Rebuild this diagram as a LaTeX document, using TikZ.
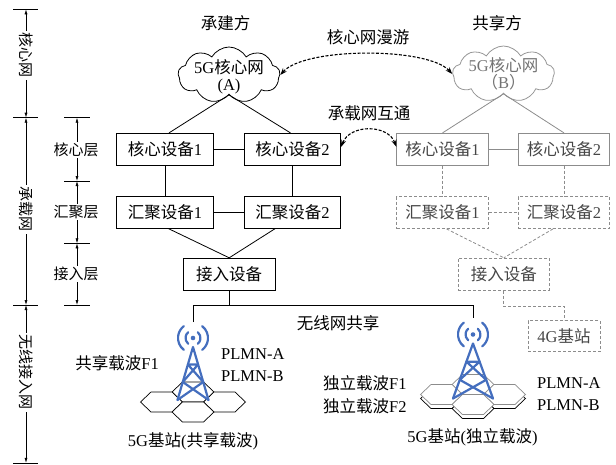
\documentclass[tikz,border=0pt]{standalone}
\usepackage{fontspec}
\setmainfont{Liberation Serif}
\newfontfamily\cjk{Noto Sans CJK SC}
\newcommand\zh[1]{{\cjk #1}}
\usetikzlibrary{shapes.symbols,arrows.meta,calc}
\definecolor{towerblue}{RGB}{68,110,190}
\definecolor{linegray}{RGB}{140,140,140}
\definecolor{textgray}{RGB}{70,70,70}
\definecolor{cloudgray}{RGB}{150,150,150}
\definecolor{cloudtext}{RGB}{115,115,115}

\tikzset{
  txt/.style={font=\fontsize{16.5}{17}\selectfont, inner sep=0pt},
  axistxt/.style={font=\fontsize{15}{17}\selectfont, fill=white, inner xsep=2pt, inner ysep=1pt},
  box/.style={txt, draw, line width=0.8pt, minimum height=32pt},
  gbox/.style={box, draw=linegray, text=textgray},
  dbox/.style={gbox, dash pattern=on 3pt off 2pt},
  wire/.style={line width=0.8pt},
  gwire/.style={line width=0.8pt, draw=linegray},
  dwire/.style={gwire, dash pattern=on 3pt off 2pt},
  linkarrow/.style={line width=1.1pt, dash pattern=on 3pt off 1.6pt,
    {Stealth[length=7pt,width=5pt]}-{Stealth[length=7pt,width=5pt]}},
  dimarrow/.style={line width=0.6pt,
    {Latex[length=5pt,width=3pt]}-{Latex[length=5pt,width=3pt]}},
  tick/.style={line width=0.6pt},
  cloudshape/.style={cloud, cloud puffs=9, cloud puff arc=120, draw,
    line width=0.8pt, minimum width=102pt, minimum height=56pt, inner sep=0pt},
  towerline/.style={draw=towerblue, line width=2.2pt, line cap=round, line join=round},
  hexblack/.style={draw=black, fill=white, line width=0.7pt},
  hexgray/.style={draw=linegray, fill=white, line width=0.7pt},
  pics/hexa/.style={code={
    \draw[#1] (-21,0) -- (-10.5,-10) -- (10.5,-10) -- (21,0) -- (10.5,10) -- (-10.5,10) -- cycle;}},
  pics/tower/.style 2 args={code={
    \pgfmathsetmacro\tw{#1}\pgfmathsetmacro\th{#2}
    % legs and bracing
    \draw[towerline] (-\tw,\th) -- (0,0) -- (\tw,\th);
    \draw[towerline]
      (-.33*\tw,.33*\th) -- (.33*\tw,.33*\th)
      (-.33*\tw,.33*\th) -- (.66*\tw,.66*\th)
      (.33*\tw,.33*\th) -- (-.66*\tw,.66*\th)
      (-.66*\tw,.66*\th) -- (\tw,\th)
      (.66*\tw,.66*\th) -- (-\tw,\th);
    % antenna and radio waves
    \fill[towerblue] (0,-9) circle[radius=2.3];
    \draw[towerline] (0,-9) ++(-50:7.5) arc[start angle=-50,end angle=50,radius=7.5];
    \draw[towerline] (0,-9) ++(130:7.5) arc[start angle=130,end angle=230,radius=7.5];
    \draw[towerline] (0,-9) ++(-52:15) arc[start angle=-52,end angle=52,radius=15];
    \draw[towerline] (0,-9) ++(128:15) arc[start angle=128,end angle=232,radius=15];
  }}
}

\begin{document}
\begin{tikzpicture}[x=1pt,y=-1pt]
\useasboundingbox (0,0) rectangle (616,464);

% ---------- network scale on the left ----------
\coordinate (L0) at (26,9.3);
\coordinate (L1) at (26,117.7);
\coordinate (L2) at (26,305);
\coordinate (L3) at (26,462.8);
\foreach \p in {L0,L1,L2,L3}
  \draw[tick] ([xshift=-13pt]\p) -- ([xshift=12pt]\p);
\draw[dimarrow] (L0) -- (L1);
\draw[dimarrow] (L1) -- (L2);
\draw[dimarrow] (L2) -- (L3);
\node[txt, axistxt, rotate=-90] (netcore) at (26,55) {\zh{核心网}};
\node[txt, axistxt, rotate=-90] (netbear) at (26,209) {\zh{承载网}};
\node[txt, axistxt, rotate=-90] (netradio) at (26,372) {\zh{无线接入网}};

\coordinate (M0) at (77,117.7);
\coordinate (M1) at (77,181);
\coordinate (M2) at (77,243.3);
\coordinate (M3) at (77,305);
\foreach \p in {M0,M1,M2,M3}
  \draw[tick] ([xshift=-13pt]\p) -- ([xshift=13pt]\p);
\draw[dimarrow] (M0) -- (M1);
\draw[dimarrow] (M1) -- (M2);
\draw[dimarrow] (M2) -- (M3);
\node[txt, axistxt] (laycore) at (76,150) {\zh{核心层}};
\node[txt, axistxt] (layagg) at (76,212) {\zh{汇聚层}};
\node[txt, axistxt] (layacc) at (76,274) {\zh{接入层}};

% ---------- headings ----------
\node[txt] (builder) at (225.5,23) {\zh{承建方}};
\node[txt] (sharer) at (497,23) {\zh{共享方}};
\node[txt] (roam) at (368,37) {\zh{核心网漫游}};
\node[txt] (bearer) at (369,113) {\zh{承载网互通}};

% ---------- core clouds ----------
\node[cloudshape] (cA) at (229,75) {};
\node[txt, align=center] (cAtext) at (229,77) {5G\zh{核心网}\\(A)};
\node[cloudshape, draw=cloudgray] (cB) at (503.5,74) {};
\node[txt, align=center, text=cloudtext] (cBtext) at (503.5,74) {5G\zh{核心网}\\\zh{（}B\zh{）}};

% ---------- operator A network ----------
\node[box, minimum width=96.5pt] (c1) at (165,149.3) {\zh{核心设备}1};
\node[box, minimum width=96.5pt] (c2) at (292.5,149.3) {\zh{核心设备}2};
\node[box, minimum width=96.5pt] (a1) at (165,212) {\zh{汇聚设备}1};
\node[box, minimum width=96.5pt] (a2) at (292.5,212) {\zh{汇聚设备}2};
\node[box, minimum width=91.7pt] (acc) at (229.2,274.2) {\zh{接入设备}};

\draw[wire] (cA.south) -- ($(c1.north)+(4,0)$);
\draw[wire] (cA.south) -- ($(c2.north)+(-2,0)$);
\draw[wire] (c1) -- (c2);
\draw[wire] (c1) -- (a1);
\draw[wire] (c2) -- (a2);
\draw[wire] (a1) -- (a2);
\draw[wire] ($(a1.south)+(3,0)$) -- (acc.north);
\draw[wire] ($(a2.south)+(-17,0)$) -- (acc.north);

% ---------- operator B network ----------
\node[gbox, minimum width=91.5pt] (rc1) at (442.5,149.3) {\zh{核心设备}1};
\node[gbox, minimum width=91.5pt] (rc2) at (564,149.3) {\zh{核心设备}2};
\node[dbox, minimum width=91.5pt] (ra1) at (442.5,212.5) {\zh{汇聚设备}1};
\node[dbox, minimum width=91.5pt] (ra2) at (564,212.5) {\zh{汇聚设备}2};
\node[dbox, minimum width=91pt] (racc) at (503.8,274.2) {\zh{接入设备}};
\node[dbox, minimum width=72pt, minimum height=31pt] (g4) at (564,336.3) {4G\zh{基站}};

\draw[gwire] (cB.south) -- (rc1.north);
\draw[gwire] (cB.south) -- (rc2.north);
\draw[gwire] (rc1) -- (rc2);
\draw[dwire] (rc1) -- (ra1);
\draw[dwire] (rc2) -- (ra2);
\draw[dwire] (ra1) -- (ra2);
\draw[dwire] ($(ra1.south)+(4,0)$) -- (racc.north);
\draw[dwire] ($(ra2.south)+(-11,0)$) -- (racc.north);
\draw[dwire] (racc.south) -- ++(0,15.5) -| (g4.north);

% ---------- roaming and interconnection links ----------
\draw[linkarrow] (cA.east) .. controls (305,47) and (428,47) .. (cB.west);
\draw[linkarrow] ($(c2.east)+(0,-2.5)$) .. controls (350,124) and (388,124) .. ($(rc1.west)+(0,-2.5)$);

% ---------- shared radio access ----------
\coordinate (bus) at (229.2,305.5);
\coordinate (tl) at (193,322);
\coordinate (tr) at (473,318);
\draw[wire] (acc.south) -- (bus);
\draw[wire] (tl) |- (bus) -| (tr);
\node[txt] (radioshare) at (338,323) {\zh{无线网共享}};

% left site: one shared carrier
\foreach \dx/\dy in {0/0,-31.5/10,31.5/10,0/20}
  \pic at ($(193,392)+(\dx,\dy)$) {hexa=hexblack};
\pic at (193,347) {tower={15.5}{53}};
\node[txt, anchor=east] (carrier) at (159,363) {\zh{共享载波}F1};
\node[txt, anchor=west] (plmnA1) at (221,354) {PLMN-A};
\node[txt, anchor=west] (plmnB1) at (221,376) {PLMN-B};
\node[txt] (site1) at (193,441) {5G\zh{基站}(\zh{共享载波})};

% right site: two independent carriers
\foreach \dx/\dy in {0/0,-31.5/10,31.5/10,0/20}
  \pic at ($(473,388.5)+(\dx,\dy)$) {hexa=hexblack};
\foreach \dx/\dy in {0/0,-31.5/10,31.5/10,0/20}
  \pic at ($(473,384.5)+(\dx,\dy)$) {hexa=hexgray};
\pic at (473,343.5) {tower={20}{55}};
\node[txt, anchor=west] (carr1) at (323,383) {\zh{独立载波}F1};
\node[txt, anchor=west] (carr2) at (323,406) {\zh{独立载波}F2};
\node[txt, anchor=west] (plmnA2) at (537,383) {PLMN-A};
\node[txt, anchor=west] (plmnB2) at (537,405) {PLMN-B};
\node[txt] (site2) at (472.5,437) {5G\zh{基站}(\zh{独立载波})};
\end{tikzpicture}
\end{document}
